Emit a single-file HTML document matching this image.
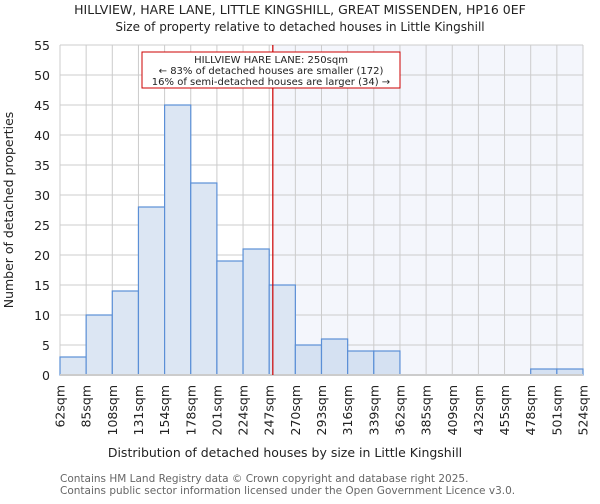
<!DOCTYPE html>
<html><head><meta charset="utf-8"><style>
body{margin:0;background:#fff;font-family:"DejaVu Sans","Liberation Sans",sans-serif;}
svg text{font-family:"DejaVu Sans","Liberation Sans",sans-serif;}
</style></head><body>
<svg id="c" width="600" height="500">
<text x="300" y="14" text-anchor="middle" font-size="12.5" fill="#222">HILLVIEW, HARE LANE, LITTLE KINGSHILL, GREAT MISSENDEN, HP16 0EF</text>
<text x="300" y="31" text-anchor="middle" font-size="12" fill="#222">Size of property relative to detached houses in Little Kingshill</text>
<g id="plot"></g>
<text x="285" y="457" text-anchor="middle" font-size="12.5" fill="#222">Distribution of detached houses by size in Little Kingshill</text>
<text transform="translate(13,210) rotate(-90)" text-anchor="middle" font-size="12.5" fill="#222">Number of detached properties</text>
<text x="60" y="482" font-size="10.5" fill="#666">Contains HM Land Registry data © Crown copyright and database right 2025.</text>
<text x="60" y="494" font-size="10.5" fill="#666">Contains public sector information licensed under the Open Government Licence v3.0.</text>
</svg>
<script>
const binLabels=["62sqm","85sqm","108sqm","131sqm","154sqm","178sqm","201sqm","224sqm","247sqm","270sqm","293sqm","316sqm","339sqm","362sqm","385sqm","409sqm","432sqm","455sqm","478sqm","501sqm","524sqm"];
const counts=[3,10,14,28,45,32,19,21,15,5,6,4,4,0,0,0,0,0,1,1];
const yTicks=[0,5,10,15,20,25,30,35,40,45,50,55];
const propertySize=250;
const binStart=62, binStep=23.1;

const NS="http://www.w3.org/2000/svg";
const g=document.getElementById('plot');
const X0=60,X1=583,Y0=375,Y1=45,YMAX=55;
const bw=(X1-X0)/counts.length;
const ys=v=>Y0-(v/YMAX)*(Y0-Y1);
const xs=i=>X0+i*bw;
const xv=v=>X0+(v-binStart)/binStep*bw;
function el(t,a){const e=document.createElementNS(NS,t);for(const k in a)e.setAttribute(k,a[k]);g.appendChild(e);return e;}
const redX=xv(propertySize);
let r=el('rect',{x:redX,y:Y1,width:X1-redX,height:Y0-Y1,fill:'#f4f6fc'});


yTicks.forEach(t=>{
 let l=el('line',{x1:X0,x2:X1,y1:ys(t),y2:ys(t),stroke:'#ccc','stroke-width':1});
 
 
 let tx=el('text',{x:X0-10,y:ys(t)+5,'text-anchor':'end','font-size':12.5,fill:'#222'});
 tx.textContent=t;
 
 
});
binLabels.forEach((lab,i)=>{
 let l=el('line',{x1:xs(i),x2:xs(i),y1:Y1,y2:Y0,stroke:'#ccc','stroke-width':1});
 
 
 let tx=el('text',{transform:`translate(${xs(i)+4.5},${Y0+10}) rotate(-90)`,'text-anchor':'end','font-size':12.5,fill:'#222'});
 tx.textContent=lab;
 
 
});
counts.forEach((v,i)=>{
 if(v<=0)return;
 const right=xs(i)>=redX-1;
 let b=el('rect',{x:xs(i),y:ys(v),width:bw,height:Y0-ys(v),fill:right?'#d5e1f2':'#dce6f3',stroke:'#5b8fd6','stroke-width':1.2});
 
 
});
let ax=el('line',{x1:X0,x2:X1,y1:Y0,y2:Y0,stroke:'#ccc','stroke-width':2});


let rl=el('line',{x1:redX,x2:redX,y1:Y1,y2:Y0,stroke:'#cc0000','stroke-width':1.2});


let box=el('rect',{x:142,y:52,width:258,height:36,fill:'#fff',stroke:'#cc0000','stroke-width':1});


["HILLVIEW HARE LANE: 250sqm","← 83% of detached houses are smaller (172)","16% of semi-detached houses are larger (34) →"].forEach((s,i)=>{
 let t=el('text',{x:271,y:63+i*11,'text-anchor':'middle','font-size':10,fill:'#222'});
 t.textContent=s;
 
 
});
</script>
</body></html>
